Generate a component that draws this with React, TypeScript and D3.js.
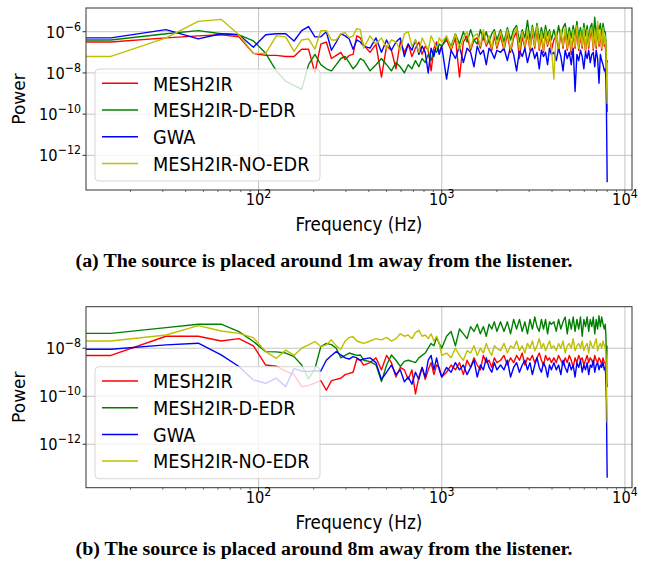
import * as d3 from "d3";

// FFT bins (16 kHz / 1024 -> 15.625 Hz per bin), finer at the low end
const BIN_HZ = 15.625;
const BINS = [
  ...d3.range(1, 25),
  ...d3.range(26, 65, 2),
  ...d3.range(68, 129, 4),
  ...d3.range(134, 255, 6),
  ...d3.range(262, 495, 8),
  500, 504, 507, 509, 511, 512,
];
const FREQS = BINS.map((k) => k * BIN_HZ);

const LABELS = ["MESH2IR", "MESH2IR-D-EDR", "GWA", "MESH2IR-NO-EDR"];
const COLORS = ["#ff0000", "#008000", "#0000ff", "#bfbf00"];

// log10(power), panel (a): source ~1m away
const redA = [
  -6.5, -6.3, -6.2, -6.15, -6.25, -7.05, -7.15, -7.15, -7.2, -7.2, -6.85, -6.85, -8.0, -6.6, -6.5, -7.3, -7.15, -7.0, -7.35, -7.15, -7.1, -6.2, -6.3, -6.65,
  -7.0, -6.6, -8.2, -6.7, -6.9, -7.8, -6.5, -7.0, -6.6, -7.2, -6.8, -6.5, -7.1, -6.7, -6.9, -7.9, -6.8, -6.5, -7.0, -6.7,
  -6.4, -6.9, -6.3, -8.2, -6.5, -6.2, -6.9, -6.4, -6.3, -6.8, -6.1, -6.7, -6.4, -6.9, -6.2, -6.8,
  -6.2, -6.9, -6.1, -7.0, -6.3, -6.0, -7.3, -6.2, -6.8, -6.1, -6.9, -6.0, -6.8, -5.9, -6.9, -6.2, -7.0, -6.1, -6.7, -6.2, -6.9,
  -6.4, -6.2, -6.9, -6.1, -6.8, -6.0, -6.9, -6.2, -7.1, -6.1, -6.8, -5.9, -6.9, -6.2, -6.8, -6.0, -7.0, -6.1, -6.8, -6.2, -6.0, -6.9, -6.1, -6.8, -5.8, -6.7, -6.1, -6.9, -6.0, -6.7,
  -6.6, -7.3, -8.2, -7.5, -7.4, -7.5,
];
const greenA = [
  -6.4, -6.1, -5.95, -6.1, -6.15, -6.45, -7.05, -7.9, -8.4, -8.6, -8.8, -7.6, -7.1, -7.6, -7.8, -7.9, -7.6, -7.3, -7.2, -7.5, -7.8, -7.6, -7.3, -7.4,
  -7.9, -7.6, -7.3, -7.6, -7.9, -7.5, -7.7, -8.0, -7.6, -7.8, -7.4, -7.7, -7.3, -7.5, -7.1, -7.4, -6.9, -7.0, -6.6, -6.7,
  -6.3, -6.7, -6.1, -6.6, -6.0, -6.5, -5.9, -6.4, -6.6, -5.9, -6.4, -6.0, -6.5, -6.1, -5.9, -6.4,
  -5.9, -6.5, -5.8, -6.4, -5.9, -5.7, -6.5, -5.9, -6.3, -5.45, -6.4, -5.7, -6.3, -5.6, -6.4, -5.8, -6.3, -5.7, -6.2, -5.9, -6.4,
  -5.9, -6.4, -5.7, -6.3, -5.8, -5.6, -6.4, -5.8, -6.3, -5.7, -6.2, -5.5, -6.3, -5.8, -6.4, -5.6, -6.2, -5.7, -6.4, -5.8, -5.6, -6.3, -5.3, -6.2, -5.7, -5.9, -5.6, -6.3, -5.6, -6.0,
  -6.0, -6.5, -7.5, -8.5, -9.2, -9.9,
];
const blueA = [
  -6.3, -5.9, -6.35, -6.1, -6.15, -6.75, -6.15, -6.1, -6.1, -6.45, -5.95, -5.75, -6.25, -6.25, -6.0, -6.9, -6.5, -6.1, -6.2, -6.35, -6.85, -6.4, -6.5, -6.7,
  -6.8, -6.3, -7.0, -6.4, -6.9, -6.5, -6.3, -7.2, -6.6, -6.9, -6.4, -7.1, -6.7, -7.0, -8.0, -6.8, -7.2, -6.6, -7.1, -6.7,
  -8.3, -6.9, -7.3, -6.7, -7.5, -6.8, -7.0, -7.7, -6.7, -7.1, -6.9, -7.6, -6.8, -7.0, -7.3, -6.9,
  -7.0, -6.8, -7.4, -6.7, -7.1, -7.9, -6.9, -7.2, -6.8, -7.5, -7.0, -6.8, -7.3, -7.0, -7.8, -6.9, -7.2, -7.0, -7.6, -6.8, -7.1,
  -7.0, -7.4, -6.8, -7.2, -7.9, -6.9, -7.3, -7.0, -7.6, -6.8, -8.9, -7.1, -7.4, -6.9, -7.2, -7.8, -7.0, -7.3, -6.9, -7.5, -7.1, -7.0, -7.7, -6.9, -7.3, -8.5, -7.1, -7.4, -7.6, -7.9,
  -7.8, -8.3, -9.5, -11.0, -12.5, -13.3,
];
const yellowA = [
  -7.2, -6.3, -5.5, -5.4, -6.15, -7.05, -7.05, -6.2, -6.25, -6.95, -6.4, -6.35, -6.85, -5.95, -5.95, -6.4, -6.4, -6.1, -6.05, -6.3, -6.2, -5.85, -5.9, -6.8,
  -6.2, -6.6, -6.3, -6.8, -6.4, -6.5, -6.9, -6.1, -6.0, -6.7, -6.4, -7.0, -6.3, -6.6, -6.9, -6.2, -6.5, -6.8, -6.3, -6.5,
  -6.2, -6.8, -6.1, -6.9, -6.3, -6.0, -6.8, -6.2, -6.1, -6.7, -5.9, -6.6, -6.2, -6.8, -6.0, -6.7,
  -6.0, -6.8, -5.9, -6.9, -6.1, -5.8, -6.9, -6.0, -6.7, -5.9, -6.8, -5.8, -6.7, -5.7, -6.8, -6.0, -6.9, -5.9, -6.6, -6.0, -6.8,
  -8.3, -6.0, -6.8, -5.9, -6.7, -5.8, -6.8, -6.0, -6.9, -5.9, -6.7, -5.7, -6.8, -6.0, -6.7, -5.8, -6.9, -5.9, -6.7, -6.0, -5.8, -6.8, -5.9, -6.7, -5.5, -6.6, -5.9, -6.8, -5.8, -6.6,
  -6.2, -6.8, -7.6, -8.6, -9.2, -9.5,
];

// log10(power), panel (b): source ~8m away
const redB = [
  -8.3, -7.5, -7.5, -7.7, -7.6, -7.9, -8.7, -8.75, -8.95, -9.1, -9.6, -9.55, -9.45, -9.35, -9.75, -9.35, -9.3, -9.25, -9.1, -9.05, -9.0, -8.45, -8.5, -8.7,
  -8.6, -8.4, -8.9, -8.3, -8.6, -9.2, -8.8, -8.9, -9.3, -8.9, -9.9, -9.2, -8.8, -9.3, -8.9, -8.6, -9.1, -8.7, -8.8, -9.2,
  -9.0, -8.7, -8.9, -8.6, -9.1, -8.5, -8.8, -8.4, -8.7, -8.9, -8.3, -8.6, -8.5, -8.8, -8.4, -8.6,
  -8.5, -8.3, -8.7, -8.4, -8.6, -8.3, -8.5, -8.2, -8.7, -8.4, -8.5, -8.3, -8.6, -8.4, -8.2, -8.5, -8.7, -8.3, -8.5, -8.4, -8.6,
  -8.4, -8.6, -8.3, -8.5, -8.7, -8.4, -8.6, -8.3, -8.5, -8.8, -8.4, -8.6, -8.3, -8.5, -8.4, -8.7, -8.5, -8.3, -8.6, -8.4, -8.5, -8.7, -8.3, -8.5, -8.6, -8.4, -8.5, -8.7, -8.4, -8.6,
  -8.6, -9.2, -9.5, -8.5, -7.9, -7.9,
];
const greenB = [
  -7.38, -7.14, -7.0, -7.0, -7.31, -7.72, -8.14, -8.15, -8.2, -8.35, -8.7, -9.28, -8.85, -7.93, -7.8, -7.85, -8.0, -8.4, -8.3, -8.2, -8.25, -8.3, -8.28, -8.5,
  -8.56, -8.69, -9.39, -8.7, -8.28, -8.5, -8.76, -8.55, -8.5, -8.55, -8.6, -8.4, -8.3, -8.2, -8.0, -7.8, -7.9, -7.55, -7.8, -8.0,
  -7.5, -7.3, -7.9, -7.2, -7.4, -7.6, -7.1, -7.3, -7.0, -7.4, -7.1, -7.5, -7.0, -7.2, -6.9, -7.3,
  -6.9, -7.3, -6.9, -7.4, -6.8, -7.2, -6.8, -7.3, -6.9, -7.4, -6.8, -7.2, -6.7, -7.1, -7.3, -6.8, -7.2, -6.8, -7.4, -6.9, -7.0,
  -6.9, -7.3, -6.8, -7.2, -6.9, -6.7, -7.4, -6.8, -7.2, -6.7, -7.3, -6.8, -7.2, -6.7, -7.5, -6.8, -7.1, -6.7, -7.3, -6.8, -7.1, -6.7, -7.4, -6.8, -7.2, -6.65, -7.1, -6.7, -7.0, -7.2,
  -7.0, -7.5, -8.6, -9.3, -9.6, -9.5,
];
const blueB = [
  -8.04, -7.86, -7.79, -8.28, -8.76, -9.32, -9.46, -9.25, -9.6, -8.85, -8.95, -8.97, -8.95, -8.95, -8.5, -8.3, -8.14, -8.28, -8.4, -8.45, -8.35, -8.4, -8.5, -8.45,
  -8.4, -8.6, -9.3, -9.0, -8.7, -9.1, -8.9, -9.4, -9.2, -9.5, -9.0, -9.3, -8.8, -9.2, -8.5, -8.3, -8.9, -8.4, -8.9, -9.2,
  -8.8, -9.0, -8.6, -8.9, -8.7, -9.1, -8.8, -8.5, -9.2, -8.7, -8.9, -8.4, -8.8, -9.0, -8.6, -8.9,
  -8.7, -8.9, -8.5, -9.2, -8.8, -8.6, -9.0, -8.7, -8.5, -8.9, -8.6, -9.1, -8.7, -8.4, -8.8, -9.0, -8.6, -8.8, -9.2, -8.7, -8.9,
  -8.6, -8.9, -8.7, -9.1, -8.5, -8.8, -9.0, -8.6, -8.9, -8.7, -9.2, -8.6, -8.8, -8.5, -9.0, -8.7, -8.9, -8.6, -9.1, -8.7, -8.8, -8.5, -9.0, -8.7, -8.6, -8.9, -8.7, -8.8, -8.6, -8.9,
  -8.8, -9.3, -10.2, -11.5, -12.8, -13.4,
];
const yellowB = [
  -7.7, -7.45, -7.06, -7.28, -7.38, -7.56, -8.14, -8.42, -8.08, -8.3, -8.0, -7.86, -7.72, -7.93, -7.86, -7.65, -7.9, -8.05, -7.7, -7.55, -7.52, -7.7, -7.75, -7.8,
  -7.7, -7.6, -7.65, -7.55, -7.7, -7.6, -7.4, -7.5, -7.45, -7.6, -7.35, -7.25, -7.5, -7.45, -7.6, -7.4, -7.7, -7.5, -7.8, -8.3,
  -8.2, -8.4, -8.0, -8.3, -8.5, -8.1, -8.2, -7.9, -8.3, -8.0, -8.2, -7.8, -8.1, -8.3, -7.9, -8.0,
  -8.1, -7.8, -8.2, -7.9, -8.0, -7.7, -8.1, -7.9, -8.2, -7.8, -8.0, -7.7, -8.1, -7.9, -7.6, -8.0, -7.8, -8.1, -7.9, -7.7, -8.0,
  -7.9, -8.1, -7.8, -8.0, -7.7, -8.2, -7.9, -7.8, -8.0, -7.6, -8.1, -7.9, -7.8, -8.0, -7.7, -8.1, -7.9, -7.8, -8.2, -7.7, -7.9, -8.0, -7.8, -7.6, -8.1, -7.9, -7.8, -8.0, -7.7, -7.9,
  -8.0, -8.3, -9.0, -10.0, -10.8, -11.1,
];

const X_DOMAIN = [11.43, 10930];
const X_TICKS = [1e2, 1e3, 1e4];

const W = 652;
const H = 567;
const PLOT_L = 86;
const PLOT_R = 632;
const SX = 0.885; // the figure is squeezed a little horizontally
const FONT = "DejaVu Sans, sans-serif";

function SqText({ x, y, anchor = "start", size, children, ...rest }: any) {
  return (
    <text
      transform={`translate(${x},${y}) scale(${SX},1)`}
      textAnchor={anchor}
      fontSize={size}
      fontFamily={FONT}
      fill="#000"
      {...rest}
    >
      {children}
    </text>
  );
}

function Panel({ id, top, bottom, yExp, series, caption, captionY }: any) {
  const x = d3.scaleLog().domain(X_DOMAIN).range([PLOT_L, PLOT_R]);
  const y = d3
    .scaleLog()
    .domain([10 ** yExp[0], 10 ** yExp[1]])
    .range([bottom, top]);
  const line = d3
    .line<[number, number]>()
    .x((d) => x(d[0]))
    .y((d) => y(10 ** d[1]));

  const yTicks = d3.range(Math.ceil(yExp[0] / 2) * 2, yExp[1], 2);
  const minorX = x.ticks().filter((t) => !X_TICKS.includes(t));
  const legH = 112;
  const legY = bottom - 9 - legH;

  return (
    <g>
      <defs>
        <clipPath id={`clip-${id}`}>
          <rect x={PLOT_L} y={top} width={PLOT_R - PLOT_L} height={bottom - top} />
        </clipPath>
      </defs>

      {/* grid */}
      {X_TICKS.map((t) => (
        <line key={t} x1={x(t)} x2={x(t)} y1={top} y2={bottom} stroke="#c4c4c4" strokeWidth={1} />
      ))}
      {yTicks.map((e) => (
        <line key={e} x1={PLOT_L} x2={PLOT_R} y1={y(10 ** e)} y2={y(10 ** e)} stroke="#c4c4c4" strokeWidth={1} />
      ))}

      {/* series; the DC bin sits at -inf on a log axis, so the trace runs flat to the left edge */}
      <g clipPath={`url(#clip-${id})`}>
        {series.map((vals: number[], i: number) => {
          const pts: [number, number][] = [[X_DOMAIN[0], vals[0]], ...FREQS.map((f, j) => [f, vals[j]] as [number, number])];
          return <path key={i} d={line(pts) ?? ""} fill="none" stroke={COLORS[i]} strokeWidth={1.4} strokeLinejoin="round" />;
        })}
      </g>

      {/* frame */}
      <rect x={PLOT_L} y={top} width={PLOT_R - PLOT_L} height={bottom - top} fill="none" stroke="#333" strokeWidth={1} />

      {/* x ticks */}
      {X_TICKS.map((t) => (
        <g key={t}>
          <line x1={x(t)} x2={x(t)} y1={bottom} y2={bottom + 3.5} stroke="#333" />
          <SqText x={x(t)} y={bottom + 15} anchor="middle" size={16.5}>
            10<tspan dy={-7} fontSize={12.5}>{Math.log10(t)}</tspan>
          </SqText>
        </g>
      ))}
      {minorX.map((t) => (
        <line key={t} x1={x(t)} x2={x(t)} y1={bottom} y2={bottom + 2} stroke="#333" strokeWidth={0.7} />
      ))}

      {/* y ticks */}
      {yTicks.map((e) => (
        <g key={e}>
          <line x1={PLOT_L - 3.5} x2={PLOT_L} y1={y(10 ** e)} y2={y(10 ** e)} stroke="#333" />
          <SqText x={PLOT_L - 5} y={y(10 ** e) + 6} anchor="end" size={16.5}>
            10<tspan dy={-7} fontSize={12.5}>{`\u2212${-e}`}</tspan>
          </SqText>
        </g>
      ))}

      {/* axis labels */}
      <text
        transform={`translate(25,${(top + bottom) / 2}) rotate(-90)`}
        textAnchor="middle"
        fontSize={17}
        fontFamily={FONT}
      >
        Power
      </text>
      <SqText x={(PLOT_L + PLOT_R) / 2} y={bottom + 41} anchor="middle" size={19}>
        Frequency (Hz)
      </SqText>

      {/* legend */}
      <rect x={95} y={legY} width={225} height={legH} rx={4} fill="#fff" fillOpacity={0.8} stroke="#cccccc" strokeOpacity={0.8} />
      {LABELS.map((lab, i) => {
        const cy = legY + 14.3 + i * 26.7;
        return (
          <g key={lab}>
            <line x1={102} x2={138} y1={cy} y2={cy} stroke={COLORS[i]} strokeWidth={1.5} />
            <SqText x={153} y={cy + 7.2} size={20}>
              {lab}
            </SqText>
          </g>
        );
      })}

      {/* caption */}
      <text
        x={324}
        y={captionY}
        textAnchor="middle"
        fontSize={18}
        fontWeight="bold"
        fontFamily="Liberation Serif, serif"
        textLength={497}
        lengthAdjust="spacingAndGlyphs"
      >
        {caption}
      </text>
    </g>
  );
}

export default function App() {
  return (
    <svg width={W} height={H} style={{ position: "absolute", left: 0, top: 0, background: "#fff" }}>
      <rect width={W} height={H} fill="#fff" />
      <Panel
        id="a"
        top={8}
        bottom={190}
        yExp={[-13.68, -4.85]}
        series={[redA, greenA, blueA, yellowA]}
        caption="(a) The source is placed around 1m away from the listener."
        captionY={267}
      />
      <Panel
        id="b"
        top={306.7}
        bottom={487.7}
        yExp={[-13.81, -6.27]}
        series={[redB, greenB, blueB, yellowB]}
        caption="(b) The source is placed around 8m away from the listener."
        captionY={555}
      />
    </svg>
  );
}
